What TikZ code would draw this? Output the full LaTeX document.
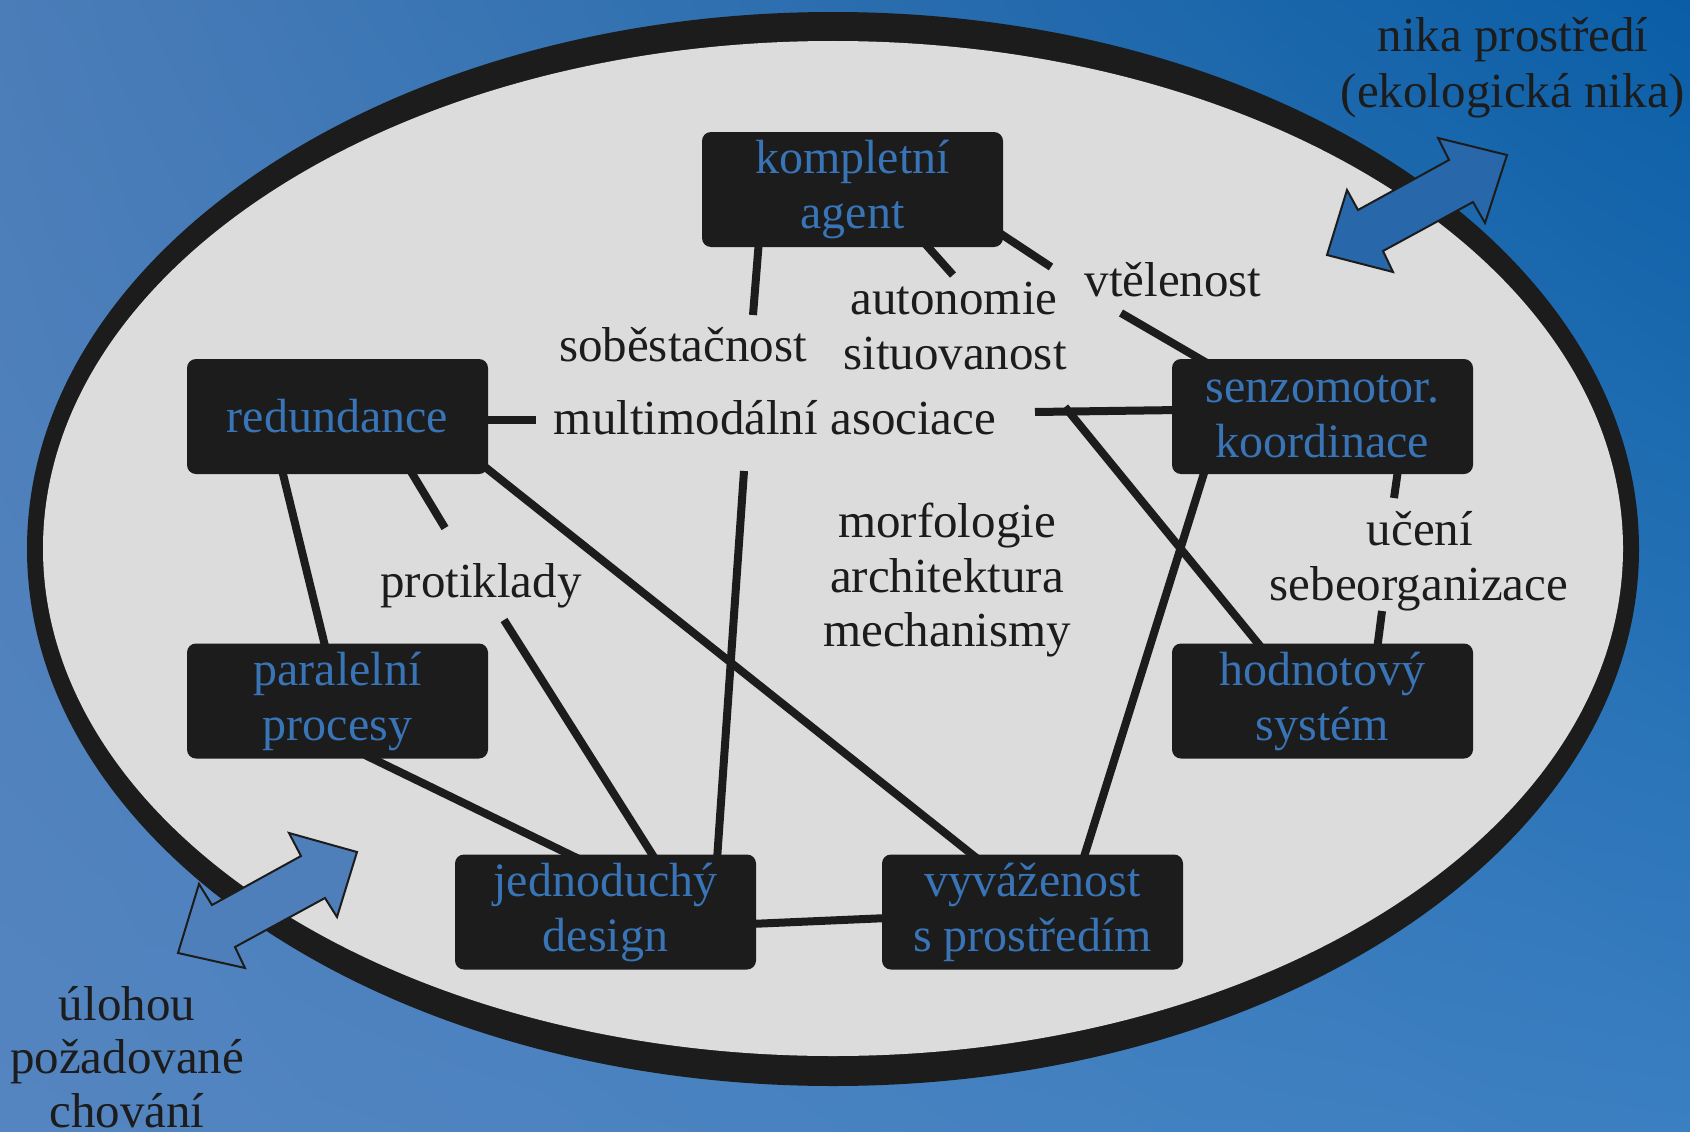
\documentclass[tikz,border=0pt]{standalone}
\usepackage{fontspec}
\setmainfont{Liberation Serif}
\usetikzlibrary{shadings}
\definecolor{ink}{HTML}{1C1C1C}
\definecolor{paper}{HTML}{DCDCDC}
\definecolor{boxtext}{HTML}{3874B6}
\definecolor{bgUL}{HTML}{4B7DB8}
\definecolor{bgUR}{HTML}{0A5EA6}
\definecolor{bgLL}{HTML}{5585C0}
\definecolor{bgLR}{HTML}{3A7FC1}
\definecolor{arrowA}{HTML}{2868AA}
\definecolor{arrowB}{HTML}{4E7FBB}
\tikzset{
  conceptbox/.style={fill=ink, rounded corners=9pt, minimum width=301pt,
    minimum height=115pt, inner sep=0pt, align=center, text=boxtext,
    font=\fontsize{48}{55}\selectfont},
  lbl/.style={anchor=base, inner sep=0pt, text=ink,
    font=\fontsize{49}{54}\selectfont},
  link/.style={draw=ink, line width=8pt},
  exchange/.style={draw=ink, line width=2pt, line join=miter},
}
\begin{document}
\begin{tikzpicture}[x=1pt,y=-1pt]
\useasboundingbox (0,0) rectangle (1690,1132);
% background and the agent's ellipse
\shade[upper left=bgUL, upper right=bgUR, lower left=bgLL, lower right=bgLR]
  (0,0) rectangle (1690,1132);
\fill[ink] (833,549) ellipse [x radius=806pt, y radius=537pt];
\fill[paper] (833,548.5) ellipse [x radius=790pt, y radius=507.5pt];

% exchange arrows with the environment and the task
\filldraw[exchange, fill=arrowA] (1507,155) -- (1485,223) -- (1473,202) -- (1383,251)
  -- (1393,272) -- (1327,255) -- (1347,190) -- (1358,210) -- (1449,160) -- (1438,138) -- cycle;
\filldraw[exchange, fill=arrowB] (357,852) -- (289,833) -- (301,856) -- (212,905)
  -- (199,884) -- (178,953) -- (245,968) -- (235,947) -- (325,898) -- (337,917) -- cycle;

% connector end points
\coordinate (a1) at (759,240);   \coordinate (a2) at (753,315);
\coordinate (b1) at (920,238);   \coordinate (b2) at (953,275);
\coordinate (c1) at (995,230);   \coordinate (c2) at (1051,267);
\coordinate (d1) at (1121,313);  \coordinate (d2) at (1212,366);
\coordinate (e1) at (480,420);   \coordinate (e2) at (536,420);
\coordinate (f1) at (1035,412);  \coordinate (f2) at (1180,410);
\coordinate (g1) at (1065,407);  \coordinate (g2) at (1265,652);
\coordinate (h1) at (744,471);   \coordinate (h2) at (717,860);
\coordinate (i1) at (282,470);   \coordinate (i2) at (326,650);
\coordinate (j1) at (410,470);   \coordinate (j2) at (445,528);
\coordinate (k1) at (504,620);   \coordinate (k2) at (657,862);
\coordinate (l1) at (480,463);   \coordinate (l2) at (979,860);
\coordinate (m1) at (365,755);   \coordinate (m2) at (581,860);
\coordinate (n1) at (1205,470);  \coordinate (n2) at (1083,860);
\coordinate (o1) at (1398,470);  \coordinate (o2) at (1394,498);
\coordinate (p1) at (1382,611);  \coordinate (p2) at (1377,650);
\coordinate (q1) at (750,924);   \coordinate (q2) at (888,918);

\foreach \s in {a,b,c,d,e,f,g,h,i,j,k,l,m,n,o,p,q}
  \draw[link] (\s1) -- (\s2);

% concept boxes
\node[conceptbox] (kompletni) at (852.5,189.5) {kompletní\\agent};
\node[conceptbox] (redundance) at (337.5,416.5) {redundance};
\node[conceptbox] (senzo) at (1322.5,416.5) {senzomotor.\\koordinace};
\node[conceptbox] (paralelni) at (337.5,701) {paralelní\\procesy};
\node[conceptbox] (hodnoty) at (1322.5,701) {hodnotový\\systém};
\node[conceptbox] (jednoduchy) at (605.5,912) {jednoduchý\\design};
\node[conceptbox] (vyvazenost) at (1032.5,912) {vyváženost\\s prostředím};

% principle labels
\node[lbl] (sobest) at (683,361) {soběstačnost};
\node[lbl] (autonom) at (954,314) {autonomie};
\node[lbl] (situ) at (955,369) {situovanost};
\node[lbl] (vtel) at (1173,296) {vtělenost};
\node[lbl] (multi) at (775,434) {multimodální asociace};
\node[lbl] (morf) at (947,537) {morfologie};
\node[lbl] (arch) at (947,592) {architektura};
\node[lbl] (mech) at (947,646) {mechanismy};
\node[lbl] (proti) at (481,597) {protiklady};
\node[lbl] (uceni) at (1420,545) {učení};
\node[lbl] (sebe) at (1419,600) {sebeorganizace};
\node[lbl] (nika1) at (1513,52) {nika prostředí};
\node[lbl] (nika2) at (1513,107) {(ekologická nika)};
\node[lbl] (uloha1) at (127,1020) {úlohou};
\node[lbl] (uloha2) at (127,1073) {požadované};
\node[lbl] (uloha3) at (127,1127) {chování};
\end{tikzpicture}
\end{document}
